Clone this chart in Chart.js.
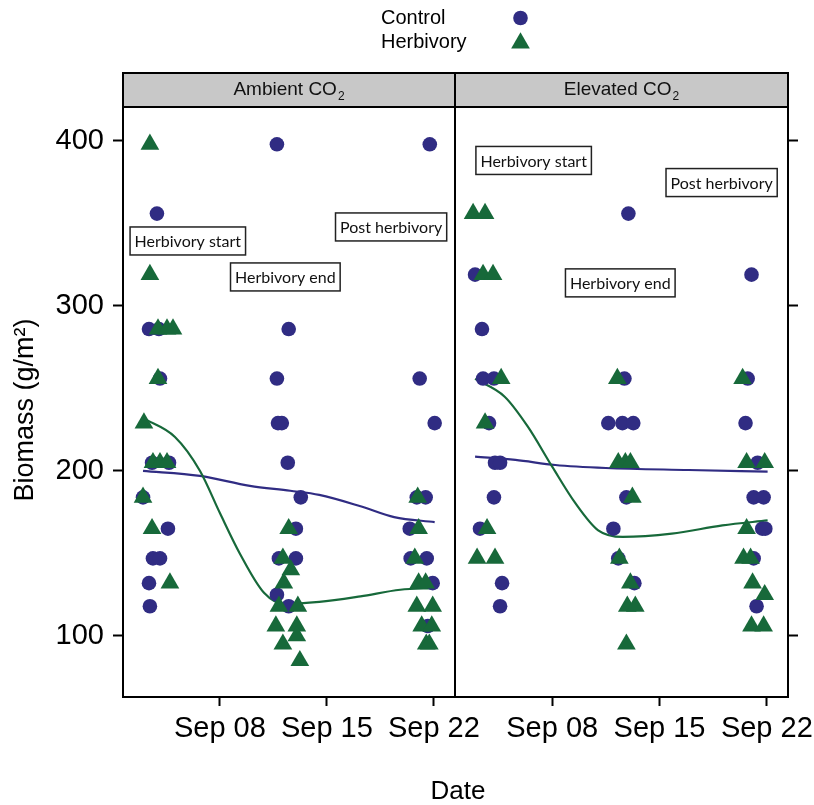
<!DOCTYPE html>
<html>
<head>
<meta charset="utf-8">
<script src="https://cdn.jsdelivr.net/npm/chart.js@4.4.0/dist/chart.umd.min.js"></script>
<style>
  html, body { margin: 0; padding: 0; background: #fff; }
  #wrap { position: relative; width: 814px; height: 805px; }
  #wrap canvas { position: absolute; left: 0; top: 0; }
</style>
</head>
<body>
<div id="wrap">
  <canvas id="ambient" width="814" height="805"></canvas>
  <canvas id="elevated" width="814" height="805"></canvas>
</div>
<script>
const BLUE = '#302c83';
const GREEN = '#17693a';
const FONT = '"Liberation Sans", Arial, sans-serif';

// x is the day of September
const xTickDays = [8, 15, 22];
const xTickLabels = ['Sep 08', 'Sep 15', 'Sep 22'];
const yTicks = [100, 200, 300, 400];
const groupNames = ['Control', 'Herbivory'];
const noteText = ['Herbivory start', 'Herbivory end', 'Post herbivory'];

// Ambient CO2 panel
const ambientControlDay = [3.36, 4.01, 3.88, 4.08, 3.56, 4.67, 2.97, 4.6, 3.62, 4.08, 3.36, 3.42,
  11.73, 12.5, 11.73, 11.8, 12.05, 12.44, 13.29, 12.97, 11.86, 12.97, 11.73, 12.5,
  21.73, 21.07, 22.05, 20.88, 21.46, 20.42, 20.48, 21.53, 21.92, 21.6];
const ambientControlMass = [286, 286, 356, 256, 205, 205, 184, 165, 147, 147, 132, 118,
  398, 286, 256, 229, 229, 205, 184, 165, 147, 147, 125, 118,
  398, 256, 229, 184, 184, 165, 147, 147, 132, 106];
const ambientHerbDay = [3.42, 3.42, 3.95, 4.54, 4.93, 3.95, 3.03, 3.62, 4.08, 4.54, 2.97, 3.56, 4.73,
  12.5, 12.12, 12.64, 12.18, 11.86, 13.1, 11.66, 13.03, 13.03, 12.12, 13.23,
  20.94, 21.0, 20.75, 21.0, 21.46, 20.88, 21.92, 21.2, 21.86, 21.5, 21.7];
const ambientHerbMass = [398, 319, 286, 286, 286, 256, 229, 205, 205, 205, 184, 165, 132,
  165, 147, 140, 132, 118, 118, 106, 106, 100, 95, 85,
  184, 165, 147, 132, 132, 118, 118, 106, 106, 95, 95];
const ambientControlFitDay = [2.97, 6.7, 9.96, 12.6, 14.5, 17.2, 19.4, 22.05];
const ambientControlFit = [200, 197, 191, 188, 185.5, 178.6, 172, 169];
const ambientHerbFitDay = [2.97, 5.06, 6.7, 8, 9.3, 10.9, 12.25, 14.5, 17.2, 19.8, 22.05];
const ambientHerbFit = [232, 220.6, 200, 174.5, 150, 126, 119.4, 120.6, 124, 128, 129];
const ambientNoteDay = [5.9, 12.28, 19.2];
const ambientNoteMass = [339.4, 317.6, 347.9];

// Elevated CO2 panel
const elevatedControlDay = [2.97, 3.42, 3.49, 4.2, 3.88, 4.27, 4.6, 4.2, 3.29, 4.73, 4.6,
  12.97, 12.71, 11.66, 12.58, 13.29, 12.84, 11.99, 12.31, 13.36,
  21.0, 20.75, 20.61, 21.4, 21.14, 21.79, 21.7, 21.9, 21.14, 21.33];
const elevatedControlMass = [319, 286, 256, 256, 229, 205, 205, 184, 165, 132, 118,
  356, 256, 229, 229, 229, 184, 165, 147, 132,
  319, 256, 229, 205, 184, 184, 165, 165, 147, 118];
const elevatedHerbDay = [2.84, 3.62, 3.49, 4.14, 4.67, 3.62, 3.75, 3.1, 4.27,
  12.25, 12.31, 12.77, 13.1, 13.23, 12.38, 13.1, 12.9, 13.42, 12.84,
  20.42, 20.68, 21.86, 20.68, 20.48, 20.94, 21.07, 21.86, 21.0, 21.79];
const elevatedHerbMass = [356, 356, 319, 319, 256, 229, 165, 147, 147,
  256, 205, 205, 205, 184, 147, 132, 118, 118, 95,
  256, 205, 205, 165, 147, 147, 132, 125, 106, 106];
const elevatedControlFitDay = [2.97, 5.6, 8.2, 11.5, 16.9, 22.05];
const elevatedControlFit = [208.7, 206.7, 203.6, 201.8, 200.6, 199.6];
const elevatedHerbFitDay = [2.97, 4.9, 6.4, 8, 9.5, 11, 12.6, 15.8, 19.1, 22.05];
const elevatedHerbFit = [255.8, 245, 227, 202.6, 180.6, 164, 160, 162, 167, 170];
const elevatedNoteDay = [6.79, 12.44, 19.05];
const elevatedNoteMass = [388.2, 314, 374.8];

function pts(days, mass) {
  return days.map((d, i) => ({ x: d, y: mass[i] }));
}

function drawMarker(ctx, style, x, y, r, color) {
  ctx.fillStyle = color;
  ctx.beginPath();
  if (style === 'circle') {
    ctx.arc(x, y, r, 0, Math.PI * 2);
  } else {
    ctx.moveTo(x, y - r);
    ctx.lineTo(x + r * Math.sqrt(3) / 2, y + r / 2);
    ctx.lineTo(x - r * Math.sqrt(3) / 2, y + r / 2);
    ctx.closePath();
  }
  ctx.fill();
}

// strip on top of each panel plus the panel border
const framePlugin = {
  id: 'frame',
  afterDraw(chart, args, opts) {
    const { ctx, chartArea: a } = chart;
    const stripTop = 73;
    ctx.save();
    ctx.fillStyle = '#c8c8c8';
    ctx.fillRect(a.left, stripTop, a.right - a.left, a.top - stripTop);
    ctx.lineWidth = 2;
    ctx.strokeStyle = '#000';
    ctx.strokeRect(a.left, stripTop, a.right - a.left, a.top - stripTop);
    ctx.strokeRect(a.left, a.top, a.right - a.left, a.bottom - a.top);

    ctx.font = '19px ' + FONT;
    const w1 = ctx.measureText(opts.title).width;
    ctx.font = '12px ' + FONT;
    const w2 = ctx.measureText('2').width;
    const x0 = (a.left + a.right) / 2 - (w1 + w2 + 1) / 2;
    ctx.fillStyle = '#111';
    ctx.textBaseline = 'middle';
    ctx.textAlign = 'left';
    ctx.font = '19px ' + FONT;
    ctx.fillText(opts.title, x0, 90);
    ctx.font = '12px ' + FONT;
    ctx.fillText('2', x0 + w1 + 1, 97);
    ctx.restore();
  }
};

// boxed period labels
const notesPlugin = {
  id: 'notes',
  afterDatasetsDraw(chart, args, opts) {
    const { ctx, scales } = chart;
    ctx.save();
    ctx.font = '16px Lato, "Open Sans", sans-serif';
    ctx.textAlign = 'center';
    ctx.textBaseline = 'middle';
    opts.days.forEach((d, i) => {
      const cx = scales.x.getPixelForValue(d);
      const cy = scales.y.getPixelForValue(opts.mass[i]);
      const w = ctx.measureText(noteText[i]).width + 9;
      const h = 28;
      ctx.fillStyle = '#fff';
      ctx.fillRect(cx - w / 2, cy - h / 2, w, h);
      ctx.lineWidth = 1.5;
      ctx.strokeStyle = '#222';
      ctx.strokeRect(cx - w / 2, cy - h / 2, w, h);
      ctx.fillStyle = '#111';
      ctx.fillText(noteText[i], cx, cy + 1);
    });
    ctx.restore();
  }
};

// legend and the shared axis titles
const pagePlugin = {
  id: 'page',
  afterDraw(chart) {
    const ctx = chart.ctx;
    ctx.save();
    ctx.fillStyle = '#000';
    ctx.textBaseline = 'middle';
    ctx.textAlign = 'left';
    ctx.font = '20px ' + FONT;
    ctx.fillText(groupNames[0], 381, 18);
    ctx.fillText(groupNames[1], 381, 42);
    drawMarker(ctx, 'circle', 520.5, 18, 7.3, BLUE);
    drawMarker(ctx, 'triangle', 520.5, 43, 10.8, GREEN);

    ctx.fillStyle = '#000';
    ctx.textAlign = 'center';
    ctx.font = '26px ' + FONT;
    ctx.fillText('Date', 458, 792);

    ctx.translate(26, 410);
    ctx.rotate(-Math.PI / 2);
    ctx.font = '27px ' + FONT;
    ctx.fillText('Biomass (g/m²)', 0, 0);
    ctx.restore();
  }
};

function makePanel(id, title, side, d, extraPlugins) {
  const left = side === 'left';
  return new Chart(document.getElementById(id), {
    type: 'scatter',
    data: {
      datasets: [
        { label: 'Control fit', data: pts(d.cFitDay, d.cFit), showLine: true, pointRadius: 0,
          borderColor: BLUE, borderWidth: 2.2, cubicInterpolationMode: 'monotone', order: 5 },
        { label: 'Herbivory fit', data: pts(d.hFitDay, d.hFit), showLine: true, pointRadius: 0,
          borderColor: GREEN, borderWidth: 2.2, cubicInterpolationMode: 'monotone', order: 4 },
        { label: groupNames[0], data: pts(d.cDay, d.cMass), pointStyle: 'circle', pointRadius: 7.3,
          backgroundColor: BLUE, borderWidth: 0, order: 3 },
        { label: groupNames[1], data: pts(d.hDay, d.hMass), pointStyle: 'triangle', pointRadius: 10.8,
          backgroundColor: GREEN, borderWidth: 0, order: 2 }
      ]
    },
    options: {
      responsive: false,
      animation: false,
      devicePixelRatio: 1,
      layout: { padding: left ? { left: 0, top: 107, right: 359, bottom: 0 }
                              : { left: 455, top: 107, right: 0, bottom: 0 } },
      plugins: {
        legend: { display: false },
        tooltip: { enabled: false },
        frame: { title: title },
        notes: { days: d.noteDay, mass: d.noteMass }
      },
      scales: {
        x: {
          type: 'linear', position: 'bottom', min: 1.66, max: 23.38,
          border: { display: false },
          grid: { drawOnChartArea: false, drawTicks: true, tickLength: 9, tickWidth: 2, tickColor: '#000' },
          ticks: {
            autoSkip: false, maxRotation: 0, padding: 6, color: '#000',
            font: { family: FONT, size: 29 },
            callback: (v) => xTickLabels[xTickDays.indexOf(v)]
          },
          afterBuildTicks: (s) => { s.ticks = xTickDays.map((v) => ({ value: v })); },
          afterFit: (s) => { s.height = 108; s.paddingLeft = 0; s.paddingRight = 0; }
        },
        y: {
          type: 'linear', position: side, min: 63, max: 420.6,
          border: { display: false },
          grid: { drawOnChartArea: false, drawTicks: true, tickLength: 10, tickWidth: 2, tickColor: '#000' },
          ticks: {
            display: left, padding: 9, color: '#000',
            font: { family: FONT, size: 29 }
          },
          afterBuildTicks: (s) => { s.ticks = yTicks.map((v) => ({ value: v })); },
          afterFit: (s) => { s.width = left ? 123 : 26; s.paddingTop = 0; s.paddingBottom = 0; }
        }
      }
    },
    plugins: [framePlugin, notesPlugin].concat(extraPlugins)
  });
}

makePanel('ambient', 'Ambient CO', 'left', {
  cDay: ambientControlDay, cMass: ambientControlMass,
  hDay: ambientHerbDay, hMass: ambientHerbMass,
  cFitDay: ambientControlFitDay, cFit: ambientControlFit,
  hFitDay: ambientHerbFitDay, hFit: ambientHerbFit,
  noteDay: ambientNoteDay, noteMass: ambientNoteMass
}, [pagePlugin]);

makePanel('elevated', 'Elevated CO', 'right', {
  cDay: elevatedControlDay, cMass: elevatedControlMass,
  hDay: elevatedHerbDay, hMass: elevatedHerbMass,
  cFitDay: elevatedControlFitDay, cFit: elevatedControlFit,
  hFitDay: elevatedHerbFitDay, hFit: elevatedHerbFit,
  noteDay: elevatedNoteDay, noteMass: elevatedNoteMass
}, []);
</script>
</body>
</html>
